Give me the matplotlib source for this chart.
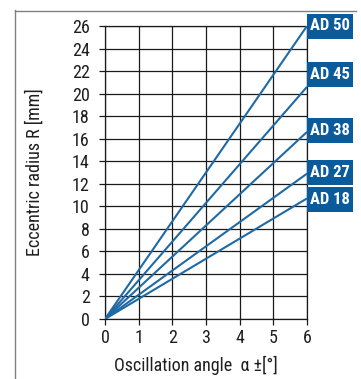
import matplotlib
matplotlib.use("Agg")
import matplotlib.pyplot as plt
from matplotlib.lines import Line2D
from matplotlib.patches import Rectangle

plt.rcParams["font.family"] = ["Roboto Condensed", "DejaVu Sans"]

# data
models = ["AD 18", "AD 27", "AD 38", "AD 45", "AD 50"]
angle_end = [6, 6, 6, 6, 6]
radius_end = [10.7, 12.9, 16.6, 20.6, 26.0]
x_ticks = [0, 1, 2, 3, 4, 5, 6]
y_ticks = list(range(0, 27, 2))

# label box centres (layout only)
box_y = [10.6, 13.0, 16.7, 21.7, 26.0]

line_blue = "#1f6aa5"
box_blue = "#0a5b9c"
ink = "#1e1e1e"

fig = plt.figure(figsize=(3.61, 3.79), dpi=100)
ax = fig.add_axes([105 / 361, 60 / 379, 202 / 361, 293 / 379])

for xe, ye in zip(angle_end, radius_end):
    ax.plot([0, xe], [0, ye], color=line_blue, lw=1.5, solid_capstyle="butt", zorder=3)

ax.set_xlim(0, 6)
ax.set_ylim(0, 26)
ax.set_xticks(x_ticks)
ax.set_yticks(y_ticks)
ax.grid(True, color="#1a1a1a", lw=0.9)
ax.set_axisbelow(True)
for s in ax.spines.values():
    s.set_color("#1a1a1a")
    s.set_linewidth(0.9)
ax.tick_params(direction="out", length=4, width=0.9, color="#1a1a1a",
               labelsize=13, labelcolor=ink, pad=3)
ax.tick_params(axis="y", pad=7)

ax.set_xlabel("Oscillation angle  α ±[°]", fontsize=13, color=ink)
ax.set_ylabel("Eccentric radius R [mm]", fontsize=13, color=ink)
ax.xaxis.set_label_coords(0.45, -0.125)
ax.yaxis.set_label_coords(-0.305, 0.5)

box_w = 46 / 202 * 6
box_h = 25 / 293 * 26
for name, yc in zip(models, box_y):
    ax.add_patch(Rectangle((6, yc - box_h / 2), box_w, box_h, facecolor=box_blue,
                           edgecolor="none", clip_on=False, zorder=4))
    ax.text(6 + box_w / 2, yc, name, color="white", fontsize=12, fontweight="bold",
            ha="center", va="center", clip_on=False, zorder=5)

# thin grey frame round the figure
fig.add_artist(Line2D([15 / 361, 15 / 361], [0, 369 / 379], color="#808080", lw=1))
fig.add_artist(Line2D([15 / 361, 356 / 361], [368 / 379, 368 / 379], color="#808080", lw=1))

fig.savefig("out.png", dpi=100)
